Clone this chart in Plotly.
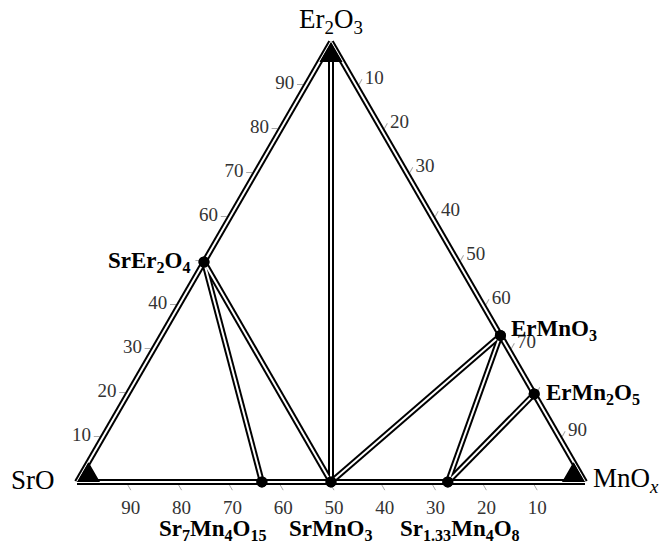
import plotly.graph_objects as go

# Components: a = Er2O3 (top), b = SrO (left), c = MnOx (right), mol %
corner_keys = ["Er2O3", "SrO", "MnOx"]
corner_labels = ["Er<sub>2</sub>O<sub>3</sub>", "SrO", "MnO<sub><i>x</i></sub>"]
corner_er2o3 = [100, 0, 0]
corner_sro = [0, 100, 0]
corner_mnox = [0, 0, 100]

phase_keys = ["SrEr2O4", "ErMnO3", "ErMn2O5", "Sr7Mn4O15", "SrMnO3", "Sr1.33Mn4O8"]
phase_labels = ["SrEr<sub>2</sub>O<sub>4</sub>", "ErMnO<sub>3</sub>", "ErMn<sub>2</sub>O<sub>5</sub>",
                "Sr<sub>7</sub>Mn<sub>4</sub>O<sub>15</sub>", "SrMnO<sub>3</sub>",
                "Sr<sub>1.33</sub>Mn<sub>4</sub>O<sub>8</sub>"]
phase_er2o3 = [50, 33.3, 20, 0, 0, 0]
phase_sro = [50, 0, 0, 63.6, 50, 27]
phase_mnox = [0, 66.7, 80, 36.4, 50, 73]

# Tie lines between coexisting phases (triangle edges come from the axis lines)
tie_lines = [("Er2O3", "SrMnO3"), ("SrEr2O4", "Sr7Mn4O15"), ("SrEr2O4", "SrMnO3"),
             ("SrMnO3", "ErMnO3"), ("ErMnO3", "Sr1.33Mn4O8"), ("ErMn2O5", "Sr1.33Mn4O8")]

tick_vals = [10, 20, 30, 40, 50, 60, 70, 80, 90]
a_tick_text = ["10", "20", "30", "40", "", "60", "70", "80", "90"]
b_tick_text = ["10", "20", "30", "40", "50", "60", "70", "80", "90"]
c_tick_text = ["10", "20", "30", "40", "50", "60", "70", "", "90"]

comp = {}
for k, a, b, c in zip(corner_keys, corner_er2o3, corner_sro, corner_mnox):
    comp[k] = (a, b, c)
for k, a, b, c in zip(phase_keys, phase_er2o3, phase_sro, phase_mnox):
    comp[k] = (a, b, c)

W, H = 660, 544
DX = [77 / W, 585 / W]
DY = [62 / H, 502 / H]
SERIF = "Liberation Serif, Times New Roman, serif"

fig = go.Figure()


def segment(p, q, color, width):
    fig.add_trace(go.Scatterternary(a=[comp[p][0], comp[q][0]], b=[comp[p][1], comp[q][1]],
                                    c=[comp[p][2], comp[q][2]], mode="lines",
                                    line=dict(color=color, width=width), subplot="ternary",
                                    hoverinfo="skip", showlegend=False))


# layer 1: double-stroke tie lines, black casings first, then white cores
for p, q in tie_lines:
    segment(p, q, "black", 6)
for p, q in tie_lines:
    segment(p, q, "white", 2)

# layer 2 (white edge cores) and layer 3 (corner wedges) both carry the phase points
for sub in ["ternary2", "ternary3"]:
    pass

fig.add_trace(go.Scatterternary(a=phase_er2o3, b=phase_sro, c=phase_mnox, mode="markers",
                                cliponaxis=False, marker=dict(color="black", size=11),
                                subplot="ternary2", hoverinfo="skip", showlegend=False))

# layer 3: filled wedges in each corner with a solid triangle at each centroid
CORNER = 4.3
cen_a, cen_b, cen_c = [], [], []
for k in corner_keys:
    base = comp[k]
    main = [i for i in range(3) if base[i] == 100][0]
    pts = [tuple(base)]
    for o in [i for i in range(3) if base[i] == 0]:
        v = [0, 0, 0]
        v[main] = 100 - CORNER
        v[o] = CORNER
        pts.append(tuple(v))
    pts.append(tuple(base))
    cen = [CORNER / 3] * 3
    cen[main] = 100 - 2 * CORNER / 3
    cen_a.append(cen[0]); cen_b.append(cen[1]); cen_c.append(cen[2])
    fig.add_trace(go.Scatterternary(a=[p[0] for p in pts], b=[p[1] for p in pts],
                                    c=[p[2] for p in pts], mode="lines", fill="toself",
                                    cliponaxis=False, fillcolor="black", subplot="ternary3",
                                    line=dict(color="black", width=2),
                                    hoverinfo="skip", showlegend=False))

fig.add_trace(go.Scatterternary(a=cen_a, b=cen_b, c=cen_c, mode="markers", cliponaxis=False,
                                marker=dict(symbol="triangle-up", color="black", size=14,
                                            line=dict(width=0)),
                                subplot="ternary3", hoverinfo="skip", showlegend=False))

fig.add_trace(go.Scatterternary(a=phase_er2o3, b=phase_sro, c=phase_mnox, mode="markers",
                                cliponaxis=False, marker=dict(color="black", size=11),
                                subplot="ternary3", hoverinfo="skip", showlegend=False))


def to_paper(a, b, c):
    s = a + b + c
    a, b, c = a / s, b / s, c / s
    x = DX[0] + (DX[1] - DX[0]) * (c + a / 2)
    y = DY[0] + (DY[1] - DY[0]) * a
    return x, y


annotations = []
corner_style = [dict(xanchor="center", yanchor="bottom", xshift=0, yshift=2),
                dict(xanchor="right", yanchor="middle", xshift=-20, yshift=2),
                dict(xanchor="left", yanchor="middle", xshift=6, yshift=2)]
for lbl, a, b, c, st in zip(corner_labels, corner_er2o3, corner_sro, corner_mnox, corner_style):
    x, y = to_paper(a, b, c)
    annotations.append(dict(x=x, y=y, xref="paper", yref="paper", text=lbl, showarrow=False,
                            font=dict(family=SERIF, size=27, color="black"), **st))

phase_style = [dict(xanchor="right", yanchor="middle", xshift=-11, yshift=0),
               dict(xanchor="left", yanchor="middle", xshift=9, yshift=5),
               dict(xanchor="left", yanchor="middle", xshift=10, yshift=0),
               dict(xanchor="center", yanchor="middle", xshift=-49, yshift=-48),
               dict(xanchor="center", yanchor="middle", xshift=0, yshift=-48),
               dict(xanchor="center", yanchor="middle", xshift=12, yshift=-48)]
for lbl, a, b, c, st in zip(phase_labels, phase_er2o3, phase_sro, phase_mnox, phase_style):
    x, y = to_paper(a, b, c)
    annotations.append(dict(x=x, y=y, xref="paper", yref="paper", text="<b>" + lbl + "</b>",
                            showarrow=False, font=dict(family=SERIF, size=23, color="black"), **st))


def axis(texts):
    # black 6px edge casing under the tie lines, with ticks and labels
    return dict(min=0, showline=True, linecolor="black", linewidth=6, layer="below traces",
                showgrid=False, ticks="outside", ticklen=6,
                tickwidth=1, tickcolor="#a8a8a8", tickvals=tick_vals, ticktext=texts,
                tickfont=dict(family=SERIF, size=19, color="#333333"), title=dict(text=""))


def core_axis():
    # white 2px core of the double edge line
    return dict(min=0, showline=True, linecolor="white", linewidth=2, layer="below traces",
                showgrid=False, ticks="", showticklabels=False, title=dict(text=""))


def bare_axis():
    return dict(min=0, showline=False, showgrid=False, ticks="", showticklabels=False,
                title=dict(text=""))


fig.update_layout(
    width=W, height=H, margin=dict(l=0, r=0, t=0, b=0),
    paper_bgcolor="white", showlegend=False,
    ternary=dict(sum=100, domain=dict(x=DX, y=DY), bgcolor="rgba(0,0,0,0)",
                 aaxis=axis(a_tick_text), baxis=axis(b_tick_text), caxis=axis(c_tick_text)),
    ternary2=dict(sum=100, domain=dict(x=DX, y=DY), bgcolor="rgba(0,0,0,0)",
                  aaxis=core_axis(), baxis=core_axis(), caxis=core_axis()),
    ternary3=dict(sum=100, domain=dict(x=DX, y=DY), bgcolor="rgba(0,0,0,0)",
                  aaxis=bare_axis(), baxis=bare_axis(), caxis=bare_axis()),
    annotations=annotations,
)

fig.write_html("out.html")
